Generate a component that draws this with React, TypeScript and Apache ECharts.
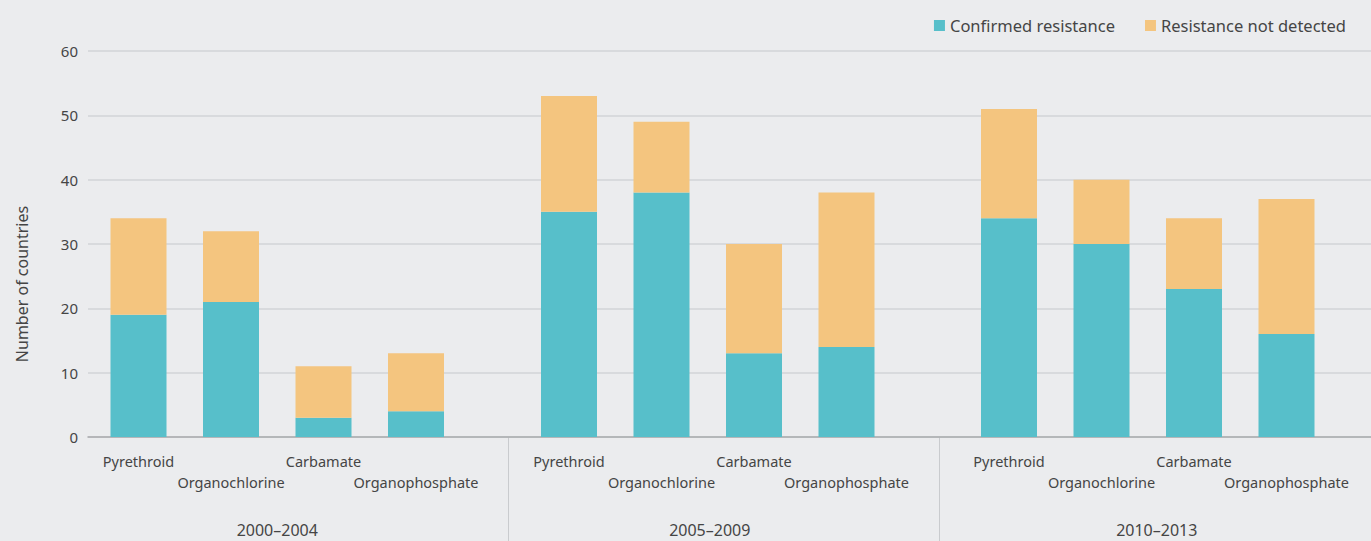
import React, { useEffect, useRef } from "react";
import * as echarts from "echarts";

const categories = ["Pyrethroid", "Organochlorine", "Carbamate", "Organophosphate"];
const periods = ["2000–2004", "2005–2009", "2010–2013"];
const confirmed2000 = [19, 21, 3, 4];
const notDetected2000 = [15, 11, 8, 9];
const confirmed2005 = [35, 38, 13, 14];
const notDetected2005 = [18, 11, 17, 24];
const confirmed2010 = [34, 30, 23, 16];
const notDetected2010 = [17, 10, 11, 21];
const yTicks = [0, 10, 20, 30, 40, 50, 60];

const confirmedByPeriod = [confirmed2000, confirmed2005, confirmed2010];
const notDetectedByPeriod = [notDetected2000, notDetected2005, notDetected2010];

const TEAL = "#57bfca";
const ORANGE = "#f4c57f";
const TEXT = "#454545";
const FONT = "'Noto Sans', sans-serif";

export default function App() {
  const ref = useRef<HTMLDivElement>(null);
  useEffect(() => {
    document.body.style.margin = "0";
    const chart = echarts.init(ref.current!, undefined, { renderer: "svg" });
    const top = 51;
    const bottom = 104;
    const groupLefts = [92.25, 522.75, 962.75];
    const groupWidth = 370;
    const groupLabelShift = [0, 2, 9];

    const grid: any[] = [{ left: 88, right: 0, top, bottom }];
    const xAxis: any[] = [
      {
        gridIndex: 0,
        type: "category",
        data: [""],
        axisLine: { show: true, lineStyle: { color: "#a9abad", width: 1.5 } },
        axisTick: { show: false },
        axisLabel: { show: false },
      },
    ];
    const yAxis: any[] = [
      {
        gridIndex: 0,
        type: "value",
        min: yTicks[0],
        max: yTicks[yTicks.length - 1],
        interval: 10,
        axisLine: { show: false },
        axisTick: { show: false },
        axisLabel: { color: TEXT, fontSize: 15, fontFamily: FONT, margin: 10 },
        splitLine: { lineStyle: { color: "#d2d4d7", width: 1.5 } },
        name: "Number of countries",
        nameLocation: "middle",
        nameGap: 58,
        nameTextStyle: { color: TEXT, fontSize: 16, fontFamily: FONT, padding: [0, 80, 0, 0] },
      },
    ];
    const series: any[] = [];

    periods.forEach((p, i) => {
      grid.push({ left: groupLefts[i], width: groupWidth, top, bottom });
      xAxis.push({
        gridIndex: i + 1,
        type: "category",
        data: categories,
        position: "bottom",
        axisLine: { show: false },
        axisTick: { show: false },
        axisLabel: {
          interval: 0,
          color: TEXT,
          fontSize: 14.5,
          fontFamily: FONT,
          lineHeight: 21,
          margin: 13,
          formatter: (v: string, idx: number) => (idx % 2 === 1 ? "\n" + v : v),
        },
      });
      xAxis.push({
        gridIndex: i + 1,
        type: "category",
        data: [p],
        position: "bottom",
        axisLine: { show: false },
        axisTick: { show: false },
        axisLabel: {
          color: TEXT,
          fontSize: 16,
          fontFamily: FONT,
          margin: 85,
          padding: [0, 0, 0, groupLabelShift[i] * 2],
        },
      });
      yAxis.push({
        gridIndex: i + 1,
        type: "value",
        min: yTicks[0],
        max: yTicks[yTicks.length - 1],
        interval: 10,
        show: false,
        splitLine: { show: false },
      });
      series.push({
        name: "Confirmed resistance",
        type: "bar",
        stack: "s" + i,
        xAxisIndex: 1 + i * 2,
        yAxisIndex: i + 1,
        barWidth: 56,
        itemStyle: { color: TEAL },
        data: confirmedByPeriod[i],
      });
      series.push({
        name: "Resistance not detected",
        type: "bar",
        stack: "s" + i,
        xAxisIndex: 1 + i * 2,
        yAxisIndex: i + 1,
        barWidth: 56,
        itemStyle: { color: ORANGE },
        data: notDetectedByPeriod[i],
      });
    });

    const sepX = [508.5, 939.5];
    const graphic = sepX.map((x) => ({
      type: "line",
      shape: { x1: x, y1: 437, x2: x, y2: 541 },
      style: { stroke: "#c9cbce", lineWidth: 1 },
      silent: true,
    }));

    chart.setOption({
      animation: false,
      backgroundColor: "#ebecee",
      textStyle: { fontFamily: FONT },
      legend: {
        right: 20,
        top: 12,
        icon: "rect",
        itemWidth: 11,
        itemHeight: 11,
        itemGap: 30,
        textStyle: { color: TEXT, fontSize: 16.5, fontFamily: FONT },
        data: ["Confirmed resistance", "Resistance not detected"],
      },
      grid,
      xAxis,
      yAxis,
      series,
      graphic,
    });
    return () => chart.dispose();
  }, []);
  return <div ref={ref} style={{ width: 1371, height: 541 }} />;
}
